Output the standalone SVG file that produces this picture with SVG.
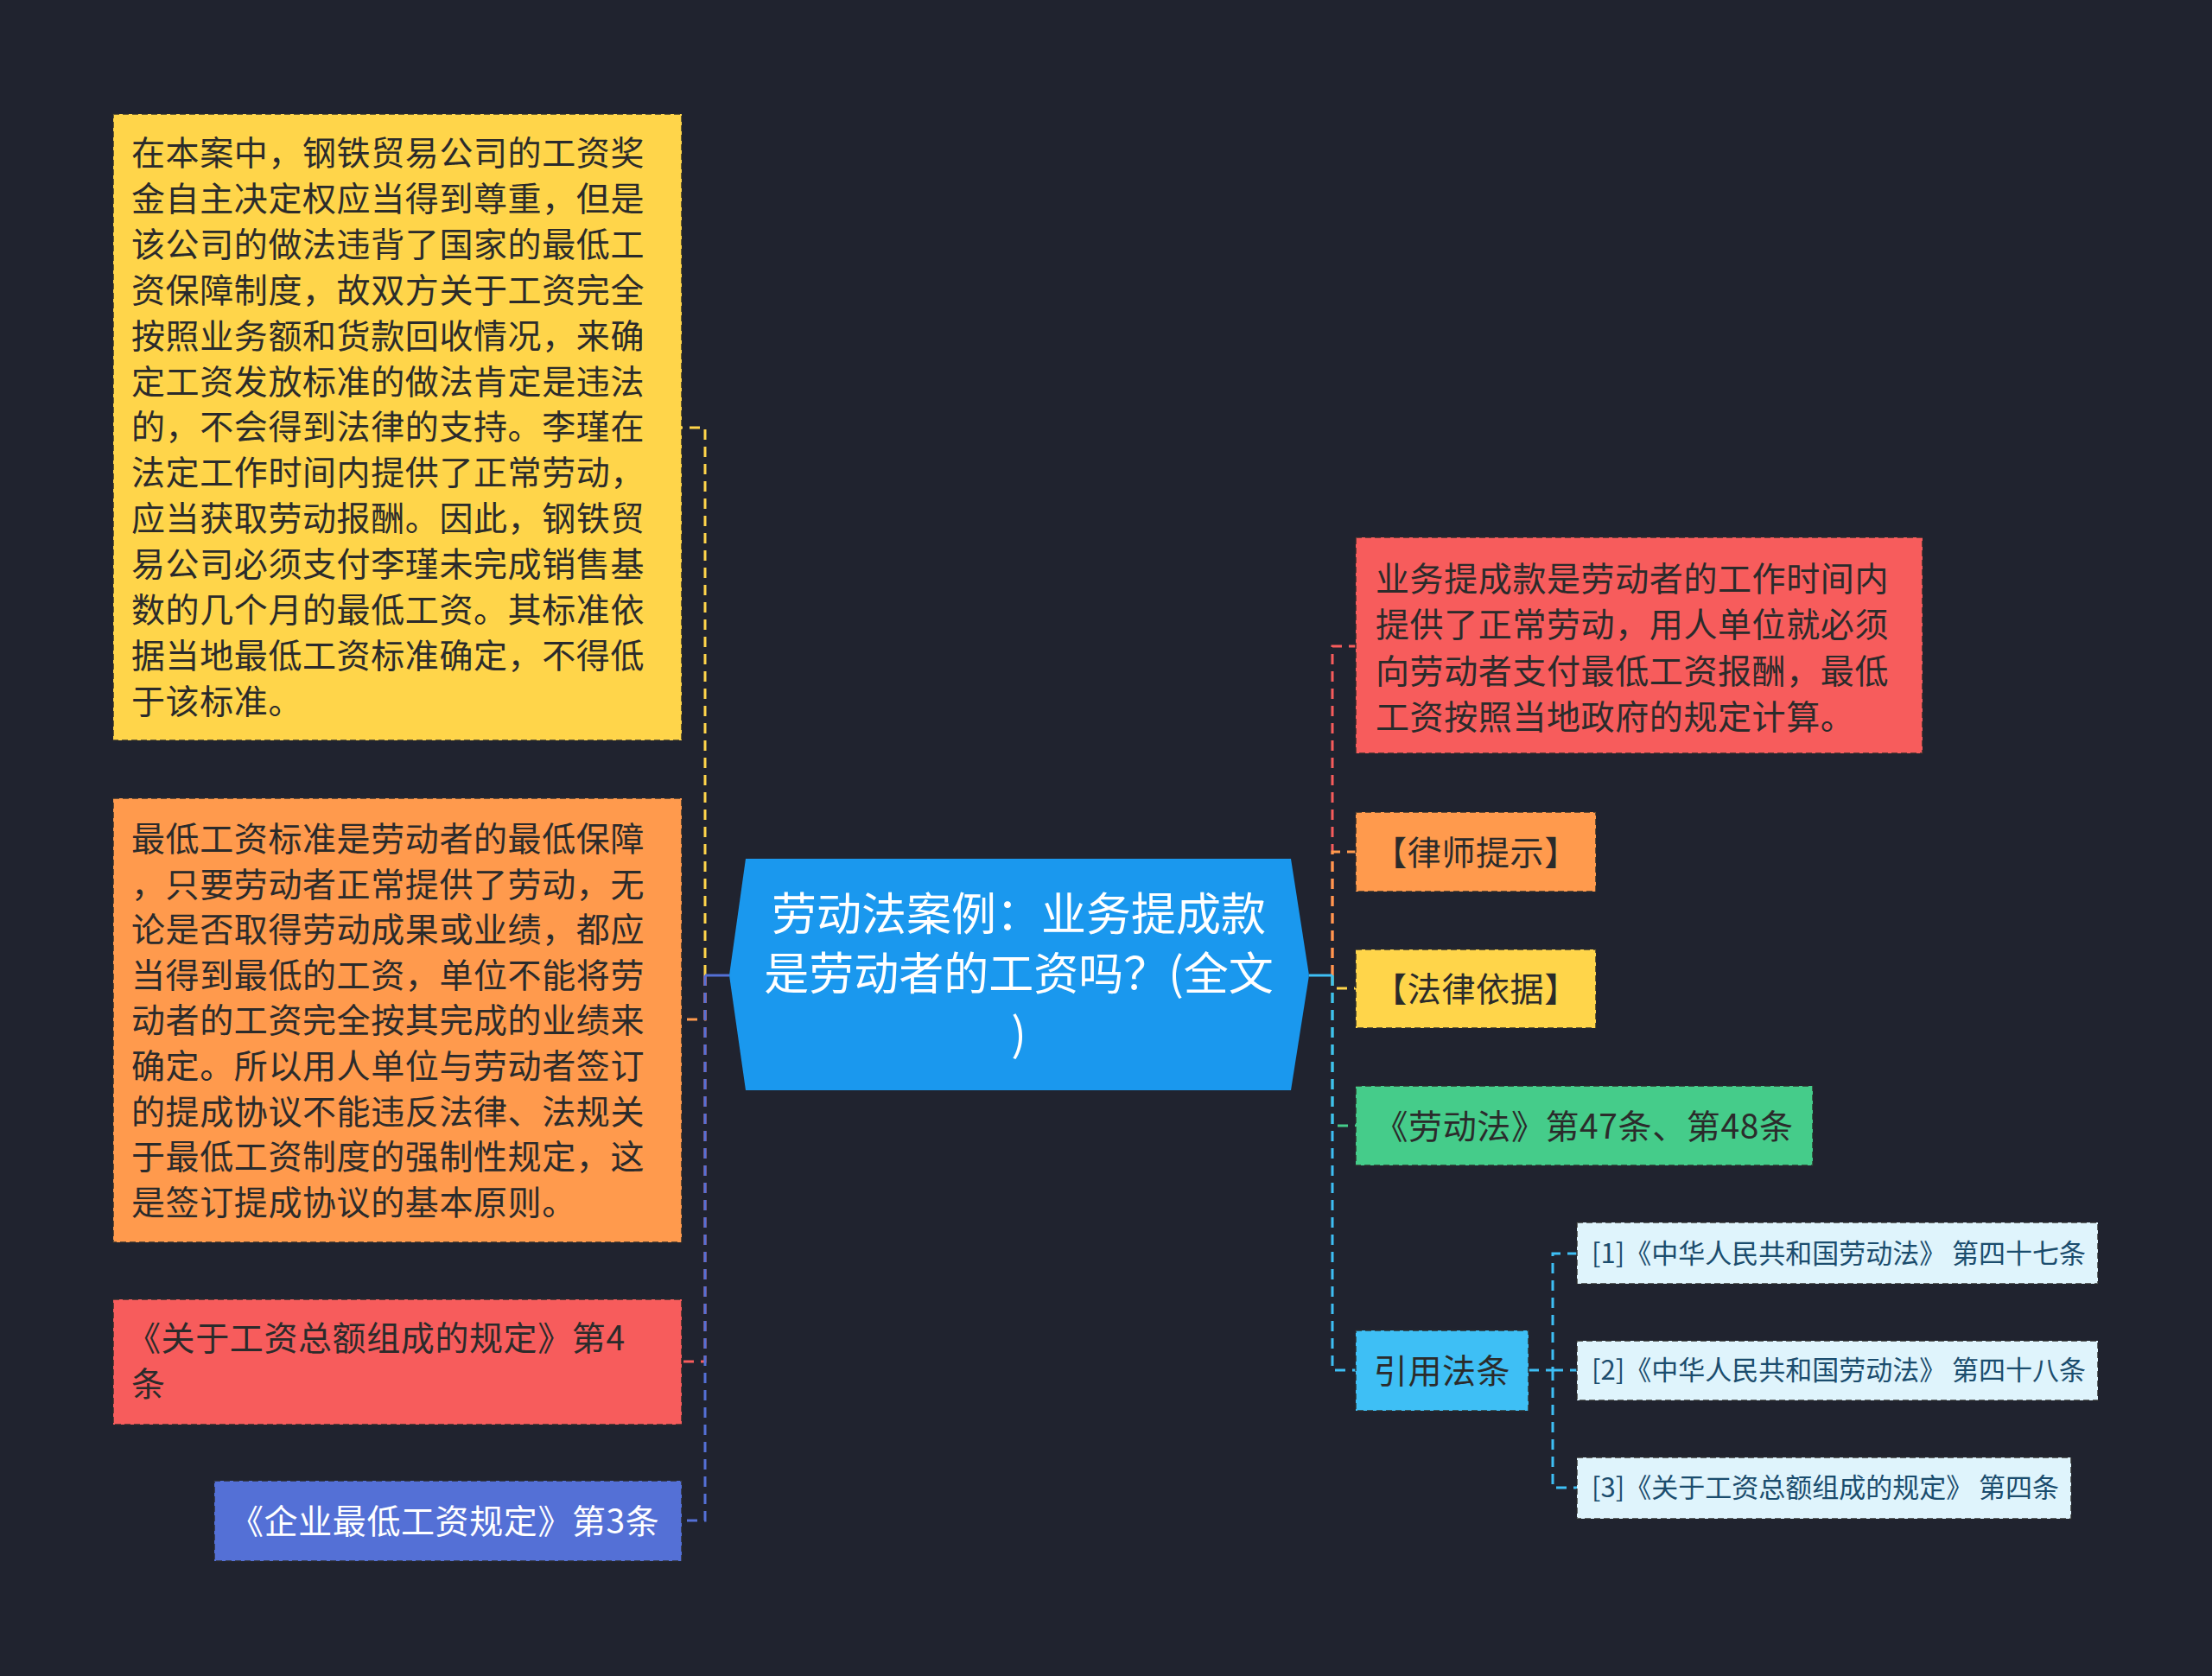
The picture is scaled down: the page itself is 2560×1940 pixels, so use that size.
<svg xmlns="http://www.w3.org/2000/svg" width="2560" height="1940" viewBox="0 0 2560 1940">
<style>
.bg{fill:#20232f}
.box{stroke:#2a2a2a;stroke-opacity:0.7;stroke-width:2;stroke-dasharray:7 4}
.t{font-family:"Noto Sans CJK SC","Noto Sans",sans-serif;font-size:39px;letter-spacing:0.6px;fill:#2b2b2b}
.tw{fill:#ffffff}
.ts{font-size:31px;letter-spacing:0;fill:#1b4d6e}
.tt{font-family:"Noto Sans CJK SC","Noto Sans",sans-serif;font-size:52px;fill:#ffffff}
.c{fill:none;stroke-width:3;stroke-dasharray:12 8}
.cs{fill:none;stroke-width:3}
</style>
<rect class="bg" x="0" y="0" width="2560" height="1940"/>
<g id="connectors">
  <path class="c" stroke="#ffd54a" d="M816,1129 V495 H789"/>
  <path class="c" stroke="#ff9a4d" d="M816,1129 V1180 H789"/>
  <path class="c" stroke="#f75c5c" d="M816,1129 V1576 H789"/>
  <path class="c" stroke="#5470d6" d="M816,1129 V1760 H789"/>
  <path class="cs" stroke="#5470d6" d="M844,1129 H816"/>
  <path class="c" stroke="#f75c5c" d="M1542,1129 V748 H1569"/>
  <path class="c" stroke="#ff9a4d" d="M1542,1129 V986 H1569"/>
  <path class="c" stroke="#ffd54a" d="M1542,1129 V1144 H1569"/>
  <path class="c" stroke="#45cc8a" d="M1542,1129 V1303 H1569"/>
  <path class="c" stroke="#3ebff5" d="M1542,1129 V1586 H1569"/>
  <path class="cs" stroke="#3ebff5" d="M1515,1129 H1542"/>
  <path class="c" stroke="#3ebff5" d="M1769,1586 H1797 V1451 H1825"/>
  <path class="c" stroke="#3ebff5" d="M1797,1586 H1825"/>
  <path class="c" stroke="#3ebff5" d="M1797,1586 V1722 H1825"/>
</g>
<g id="root">
  <polygon points="844,1129 863,994 1494,994 1515,1129 1494,1262 863,1262" fill="#1a98ee"/>
  <text class="tt" x="1179" y="1077" text-anchor="middle">劳动法案例：业务提成款</text>
  <text class="tt" x="1179" y="1146" text-anchor="middle">是劳动者的工资吗？(全文</text>
  <text class="tt" x="1179" y="1216" text-anchor="middle">)</text>
</g>
<g id="n-analysis">
  <rect class="box" x="131" y="132" width="658" height="725" fill="#ffd54a"/>
  <text class="t">
    <tspan x="152" y="191">在本案中，钢铁贸易公司的工资奖</tspan>
    <tspan x="152" y="243.9">金自主决定权应当得到尊重，但是</tspan>
    <tspan x="152" y="296.8">该公司的做法违背了国家的最低工</tspan>
    <tspan x="152" y="349.7">资保障制度，故双方关于工资完全</tspan>
    <tspan x="152" y="402.6">按照业务额和货款回收情况，来确</tspan>
    <tspan x="152" y="455.5">定工资发放标准的做法肯定是违法</tspan>
    <tspan x="152" y="508.4">的，不会得到法律的支持。李瑾在</tspan>
    <tspan x="152" y="561.3">法定工作时间内提供了正常劳动，</tspan>
    <tspan x="152" y="614.2">应当获取劳动报酬。因此，钢铁贸</tspan>
    <tspan x="152" y="667.1">易公司必须支付李瑾未完成销售基</tspan>
    <tspan x="152" y="720">数的几个月的最低工资。其标准依</tspan>
    <tspan x="152" y="772.9">据当地最低工资标准确定，不得低</tspan>
    <tspan x="152" y="825.8">于该标准。</tspan>
  </text>
</g>
<g id="n-principle">
  <rect class="box" x="131" y="924" width="658" height="514" fill="#ff9a4d"/>
  <text class="t">
    <tspan x="152" y="985">最低工资标准是劳动者的最低保障</tspan>
    <tspan x="152" y="1037.6">，只要劳动者正常提供了劳动，无</tspan>
    <tspan x="152" y="1090.2">论是否取得劳动成果或业绩，都应</tspan>
    <tspan x="152" y="1142.8">当得到最低的工资，单位不能将劳</tspan>
    <tspan x="152" y="1195.4">动者的工资完全按其完成的业绩来</tspan>
    <tspan x="152" y="1248">确定。所以用人单位与劳动者签订</tspan>
    <tspan x="152" y="1300.6">的提成协议不能违反法律、法规关</tspan>
    <tspan x="152" y="1353.2">于最低工资制度的强制性规定，这</tspan>
    <tspan x="152" y="1405.8">是签订提成协议的基本原则。</tspan>
  </text>
</g>
<g id="n-rule4">
  <rect class="box" x="131" y="1504" width="658" height="145" fill="#f75c5c"/>
  <text class="t">
    <tspan x="147" y="1563">《关于工资总额组成的规定》第4</tspan>
    <tspan x="152" y="1616">条</tspan>
  </text>
</g>
<g id="n-rule3">
  <rect class="box" x="248" y="1714" width="541" height="93" fill="#5470d6"/>
  <text class="t tw" x="266" y="1775">《企业最低工资规定》第3条</text>
</g>
<g id="n-explain">
  <rect class="box" x="1569" y="622" width="656" height="250" fill="#f75c5c"/>
  <text class="t">
    <tspan x="1592" y="684">业务提成款是劳动者的工作时间内</tspan>
    <tspan x="1592" y="737.3">提供了正常劳动，用人单位就必须</tspan>
    <tspan x="1592" y="790.6">向劳动者支付最低工资报酬，最低</tspan>
    <tspan x="1592" y="843.9">工资按照当地政府的规定计算。</tspan>
  </text>
</g>
<g id="n-tip">
  <rect class="box" x="1569" y="940" width="278" height="92" fill="#ff9a4d"/>
  <text class="t" x="1708" y="1001" text-anchor="middle">【律师提示】</text>
</g>
<g id="n-basis">
  <rect class="box" x="1569" y="1099" width="278" height="91" fill="#ffd54a"/>
  <text class="t" x="1708" y="1159" text-anchor="middle">【法律依据】</text>
</g>
<g id="n-law">
  <rect class="box" x="1569" y="1257" width="529" height="92" fill="#45cc8a"/>
  <text class="t" x="1833" y="1318" text-anchor="middle">《劳动法》第47条、第48条</text>
</g>
<g id="n-cite">
  <rect class="box" x="1569" y="1540" width="200" height="93" fill="#3ebff5"/>
  <text class="t" x="1669" y="1601" text-anchor="middle">引用法条</text>
</g>
<g id="n-c1">
  <rect class="box" x="1825" y="1415" width="603" height="71" fill="#dff4fc"/>
  <text class="t ts" x="1842" y="1462">[1]《中华人民共和国劳动法》 第四十七条</text>
</g>
<g id="n-c2">
  <rect class="box" x="1825" y="1552" width="603" height="69" fill="#dff4fc"/>
  <text class="t ts" x="1842" y="1597">[2]《中华人民共和国劳动法》 第四十八条</text>
</g>
<g id="n-c3">
  <rect class="box" x="1825" y="1687" width="572" height="71" fill="#dff4fc"/>
  <text class="t ts" x="1842" y="1733">[3]《关于工资总额组成的规定》 第四条</text>
</g>
</svg>
